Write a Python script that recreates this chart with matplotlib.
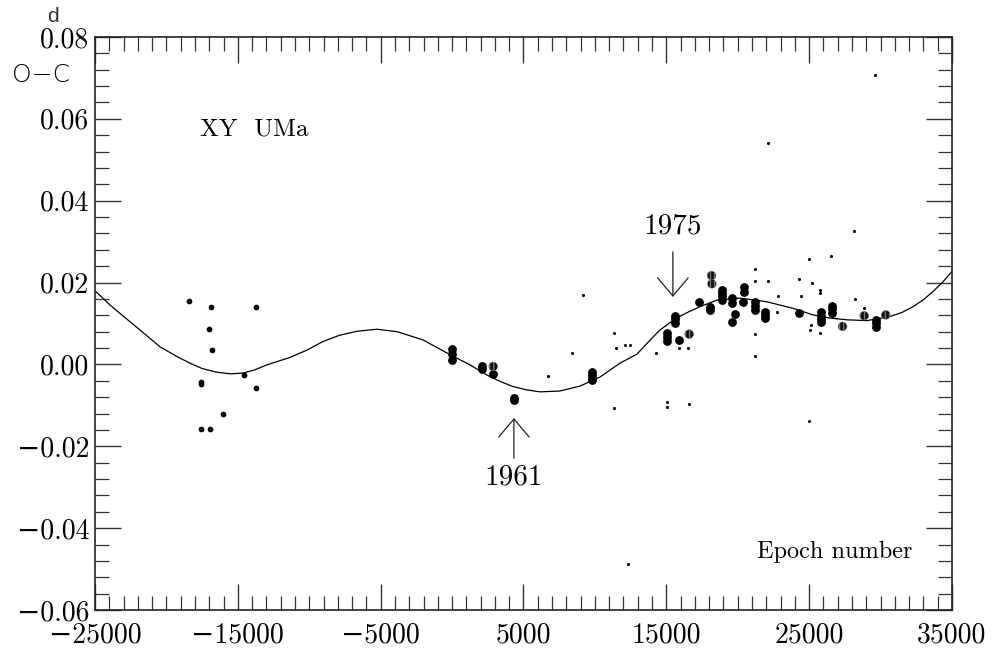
import matplotlib
matplotlib.use("Agg")
import matplotlib.pyplot as plt
from matplotlib.ticker import MultipleLocator

plt.rcParams['font.family'] = ['cmr10', 'DejaVu Serif']
plt.rcParams['axes.unicode_minus'] = True
plt.rcParams['axes.formatter.use_mathtext'] = False

# fitted O-C curve
curve_e = [-25000, -23950, -21850, -20450, -19300, -18350, -17500, -16500, -15500, -14600,
           -13800, -12960, -11350, -10160, -9040, -7900, -6660, -5260, -3860, -2040, -150, 1250,
           2440, 3400, 4260, 5200, 6150, 7550, 8950, 10350, 11750, 12940, 13800, 14550, 15740,
           16600, 17350, 18540, 20150, 22050, 23870, 25270, 26500, 27650, 29050, 30660, 31500,
           32270, 33000, 33670, 34400, 35000]
curve_oc = [0.0180, 0.0145, 0.0084, 0.0043, 0.0020, 0.0003, -0.0010, -0.0019, -0.0023, -0.0021,
            -0.0013, -0.0001, 0.0017, 0.0035, 0.0056, 0.0071, 0.0081, 0.0086, 0.0080, 0.0060,
            0.0024, -0.0001, -0.0026, -0.0042, -0.0054, -0.0062, -0.0067, -0.0065, -0.0053,
            -0.0031, 0.0003, 0.0025, 0.0057, 0.0084, 0.0114, 0.0129, 0.0141, 0.0157, 0.0162,
            0.0153, 0.0137, 0.0121, 0.0113, 0.0109, 0.0107, 0.0117, 0.0127, 0.0141, 0.0158,
            0.0178, 0.0203, 0.0227]

# early (photographic) minima
ph_e = [-18400, -16900, -17000, -16810, -17600, -17600, -14570, -13730, -13730,
        -16040, -17600, -16930]
ph_oc = [0.0156, 0.0140, 0.0087, 0.0035, -0.0042, -0.0048, -0.0025, 0.0141, -0.0058,
         -0.0120, -0.0158, -0.0158]

# visual minima
vis_e = [6730, 8410, 9160, 11350, 11450, 12100, 12460, 11350, 12330, 14250, 15060, 15060,
         16600, 15880, 16490, 21220, 21220, 22090, 22090, 21200, 21180, 22830, 22720, 24300,
         24440, 24960, 24960, 28130, 26550, 25210, 25780, 25780, 25120, 25030, 25750, 28220,
         28850, 29580]
vis_oc = [-0.0028, 0.0028, 0.0169, 0.0076, 0.0040, 0.0047, 0.0048, -0.0107, -0.0487, 0.0028,
          -0.0091, -0.0103, -0.0097, 0.0039, 0.0039, 0.0233, 0.0203, 0.0203, 0.0540, 0.0074,
          0.0021, 0.0166, 0.0129, 0.0209, 0.0167, 0.0257, -0.0138, 0.0326, 0.0266, 0.0198,
          0.0182, 0.0175, 0.0096, 0.0084, 0.0076, 0.0160, 0.0137, 0.0706]

# photoelectric minima
pe_e = [-30, -30, -30, 2070, 2070, 2880, 4350, 4350, 9770, 9770, 9770, 9770,
        15600, 15600, 15600, 15060, 15060, 15060, 15900, 17260, 18070, 18070,
        18870, 18870, 18870, 18870, 19610, 19610, 19780, 19610, 20450, 20450, 20380,
        21200, 21200, 21200, 21920, 21920, 21920, 24260, 25800, 25800, 25800, 25800,
        26570, 26570, 26570, 29650, 29650, 29650]
pe_oc = [0.0038, 0.0025, 0.0012, -0.0003, -0.0010, -0.0024, -0.0082, -0.0088,
         -0.0018, -0.0025, -0.0032, -0.0038,
         0.0118, 0.0110, 0.0102, 0.0077, 0.0068, 0.0058, 0.0059, 0.0153, 0.0141, 0.0133,
         0.0182, 0.0174, 0.0166, 0.0158, 0.0162, 0.0150, 0.0123, 0.0104, 0.0190, 0.0178, 0.0153,
         0.0153, 0.0143, 0.0133, 0.0129, 0.0121, 0.0113, 0.0126, 0.0127, 0.0119, 0.0111, 0.0103,
         0.0143, 0.0135, 0.0125, 0.0108, 0.0100, 0.0091]

# photoelectric minima drawn with grey stripes
pe2_e = [2880, 16600, 18170, 18190, 27340, 28850, 30370]
pe2_oc = [-0.0005, 0.0074, 0.0217, 0.0197, 0.0093, 0.0119, 0.0121]

fig = plt.figure(figsize=(9.94, 6.52), dpi=100)
ax = fig.add_axes([0.0956, 0.0644, 0.8621, 0.8789])

ax.plot(curve_e, curve_oc, color='black', lw=0.9, zorder=2)
ax.scatter(vis_e, vis_oc, s=5, color='black', lw=0, zorder=3)
ax.scatter(ph_e, ph_oc, s=17, color='black', lw=0, zorder=3)
ax.scatter(pe_e, pe_oc, s=40, color='black', lw=0, zorder=3)
ax.scatter(pe2_e, pe2_oc, s=40, facecolor='#111111', edgecolor='#777777',
           hatch='||||', lw=0.3, zorder=3)

ax.set_xlim(-25000, 35000)
ax.set_ylim(-0.06, 0.08)
ax.xaxis.set_major_locator(MultipleLocator(10000, offset=5000))
ax.xaxis.set_minor_locator(MultipleLocator(1000))
ax.yaxis.set_major_locator(MultipleLocator(0.02))
ax.yaxis.set_minor_locator(MultipleLocator(0.004))
ax.yaxis.set_major_formatter(lambda v, p: ('%.2f' % v).replace('-', '\u2212'))
ax.xaxis.set_major_formatter(lambda v, p: ('%d' % round(v)).replace('-', '\u2212'))

ax.tick_params(which='both', direction='in', top=True, right=True,
               colors='#333333', labelcolor='black', labelsize=20)
ax.tick_params(which='major', length=19, width=1.0, pad=9)
ax.tick_params(which='minor', length=10, width=0.9)
ax.tick_params(axis='y', which='major', pad=4)
for sp in ax.spines.values():
    sp.set_linewidth(1.2)
    sp.set_color('#222222')

ax.text(-17650, 0.0573, 'XY  UMa', fontsize=18, va='center')
ax.text(32200, -0.0458, 'Epoch number', fontsize=17.5, ha='right', va='center')

arrow = dict(arrowstyle='->,head_length=0.65,head_width=0.55', lw=0.9,
             color='#222222', mutation_scale=20, shrinkA=0, shrinkB=0)
ax.annotate('', xy=(15460, 0.0165), xytext=(15460, 0.0275), arrowprops=arrow)
ax.text(15460, 0.0338, '1975', fontsize=21, ha='center', va='center')
ax.annotate('', xy=(4330, -0.0131), xytext=(4330, -0.0229), arrowprops=arrow)
ax.text(4330, -0.0275, '1961', fontsize=21, ha='center', va='center')

fig.text(12 / 994, 1 - 75 / 652, 'O\u2212C', fontfamily=['DejaVu Sans'],
         fontsize=18, fontweight='light', va='center', ha='left')
fig.text(47 / 994, 1 - 16 / 652, 'd', fontfamily=['Liberation Sans', 'DejaVu Sans'],
         fontsize=15, va='center', ha='left', color='#333333')

fig.savefig('out.png', dpi=100)
